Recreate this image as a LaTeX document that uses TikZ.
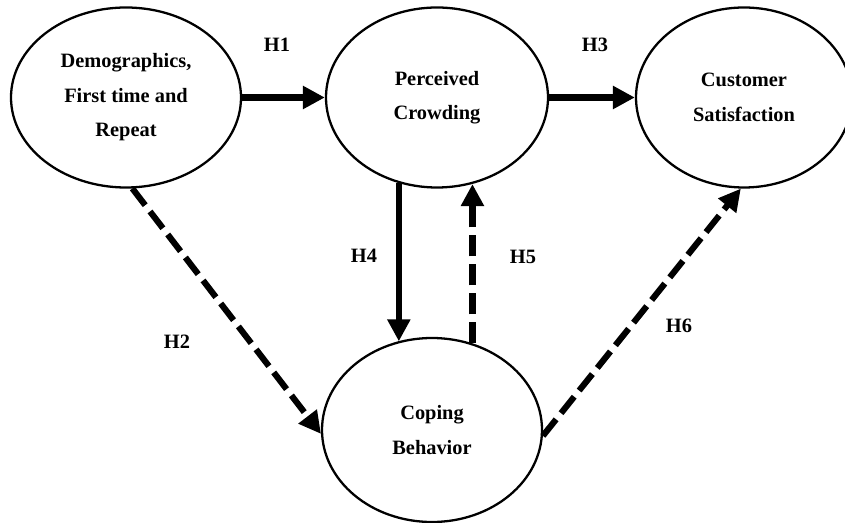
\documentclass[tikz,border=0pt]{standalone}
\usepackage{fontspec}
\setmainfont{Liberation Serif}
\usetikzlibrary{arrows.meta,shapes.geometric}
\tikzset{
	construct/.style={draw,ellipse,line width=1.3pt,inner sep=0pt,align=center,font=\bfseries\fontsize{11.6}{19.6}\selectfont},
	hyp/.style={font=\bfseries\fontsize{11.6}{14}\selectfont},
	link/.style={line width=3.5pt,-{Triangle[length=0.44cm,width=0.44cm]}},
	weaklink/.style={link,dash pattern=on 12pt off 4.5pt}
}
\begin{document}
\begin{tikzpicture}
			\useasboundingbox (0,0) rectangle (16.9,-10.46);
			\node[construct,minimum width=4.6cm,minimum height=3.6cm] (demo) at (2.52,-1.95) {Demographics,\\First time and\\Repeat};
			\node[construct,minimum width=4.44cm,minimum height=3.6cm] (crowd) at (8.74,-1.95) {Perceived\\Crowding};
			\node[construct,minimum width=4.32cm,minimum height=3.6cm] (satis) at (14.88,-1.95) {Customer\\Satisfaction};
			\node[construct,minimum width=4.4cm,minimum height=3.68cm] (cope) at (8.64,-8.6) {Coping\\Behavior};
			\draw[link] (demo.east) -- (crowd.west);
			\draw[link] (crowd.east) -- (satis.west);
			\draw[link] (crowd.246) -- (crowd.246 |- cope.111);
			\draw[weaklink] (cope.65) -- (cope.65 |- crowd.292);
			\draw[weaklink] (demo.274) -- (cope.182);
			\draw[weaklink] (cope.357) -- (satis.268);
			\node[hyp] (h1) at (5.54,-0.9) {H1};
			\node[hyp] (h3) at (11.9,-0.9) {H3};
			\node[hyp] (h4) at (7.28,-5.12) {H4};
			\node[hyp] (h5) at (10.46,-5.13) {H5};
			\node[hyp] (h2) at (3.54,-6.84) {H2};
			\node[hyp] (h6) at (13.58,-6.52) {H6};
		\end{tikzpicture}
\end{document}
